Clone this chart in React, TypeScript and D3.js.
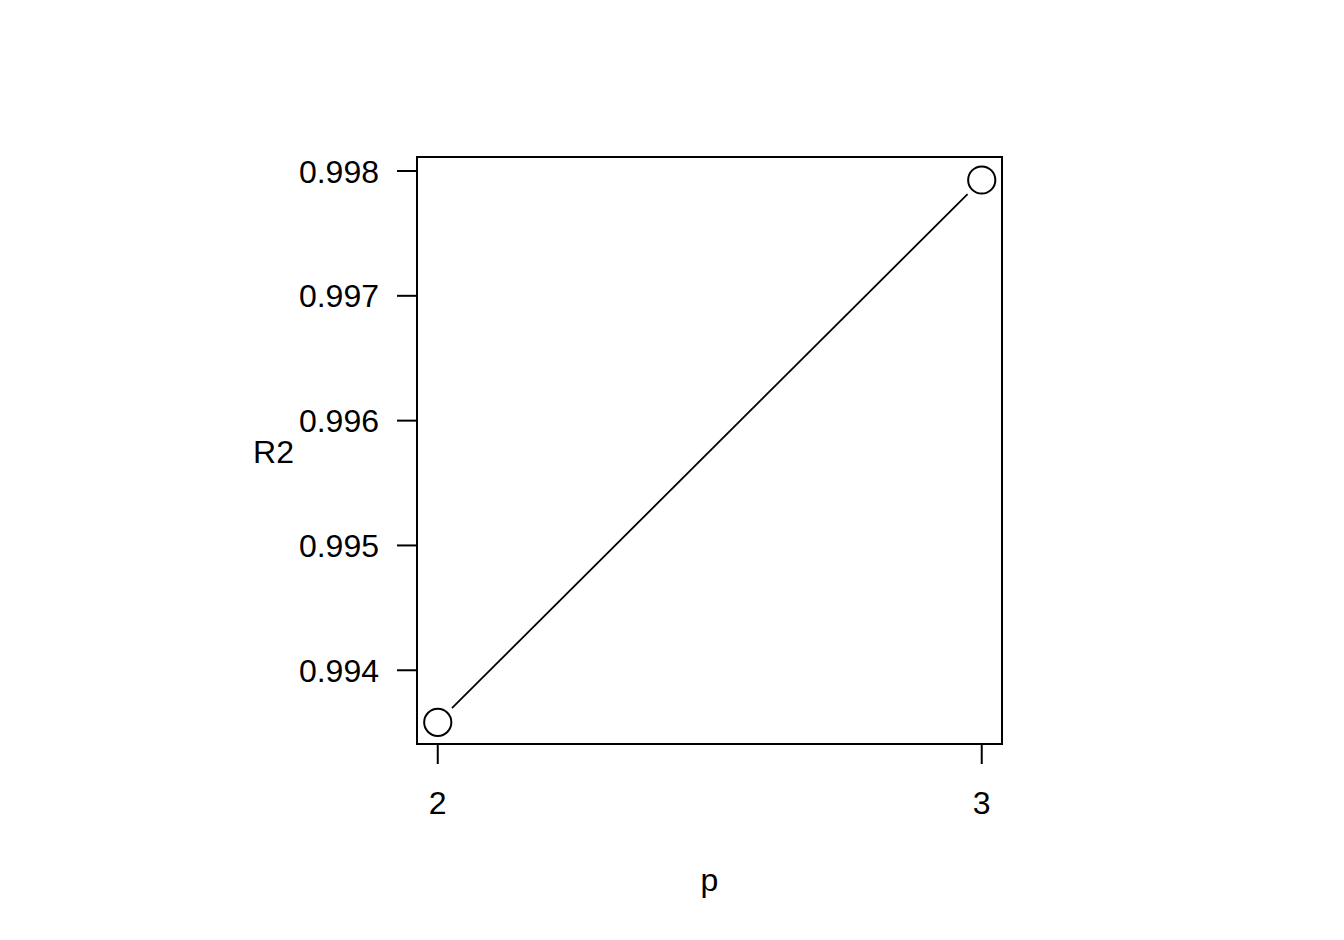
import React from "react";
import * as d3 from "d3";

const pValues = [2, 3];
const r2Values = [0.993583, 0.997928];
const yTicks = [0.994, 0.995, 0.996, 0.997, 0.998];
const xTicks = [2, 3];

const W = 1344;
const H = 940;
const left = 417;
const right = 1002;
const top = 157;
const bottom = 744;
const FONT = "'Liberation Sans', Arial, sans-serif";
const FS = 32;

function pad(ext: [number, number]): [number, number] {
  const d = (ext[1] - ext[0]) * 0.04;
  return [ext[0] - d, ext[1] + d];
}

export default function App() {
  const x = d3.scaleLinear().domain(pad(d3.extent(pValues) as [number, number])).range([416, 1003.5]);
  const y = d3.scaleLinear().domain(pad(d3.extent(r2Values) as [number, number])).range([744, 158.3]);
  const pts = pValues.map((p, i) => [x(p), y(r2Values[i])]);
  const gap = 20;
  const segs: number[][] = [];
  for (let i = 0; i < pts.length - 1; i++) {
    const [x0, y0] = pts[i];
    const [x1, y1] = pts[i + 1];
    const len = Math.hypot(x1 - x0, y1 - y0);
    const ux = (x1 - x0) / len;
    const uy = (y1 - y0) / len;
    segs.push([x0 + ux * gap, y0 + uy * gap, x1 - ux * gap, y1 - uy * gap]);
  }
  const tick = 20;
  return (
    <svg width={W} height={H} style={{ position: "absolute", left: 0, top: 0, background: "#fff" }}>
      <rect x={0} y={0} width={W} height={H} fill="#fff" />
      <rect x={left} y={top} width={right - left} height={bottom - top} fill="none" stroke="#000" strokeWidth={2} />
      {segs.map((s, i) => (
        <line key={i} x1={s[0]} y1={s[1]} x2={s[2]} y2={s[3]} stroke="#000" strokeWidth={1.8} />
      ))}
      {pts.map((p, i) => (
        <circle key={i} cx={p[0]} cy={p[1]} r={13.6} fill="none" stroke="#000" strokeWidth={2} />
      ))}
      {yTicks.map((t) => (
        <g key={t}>
          <line x1={left - tick} x2={left} y1={y(t)} y2={y(t)} stroke="#000" strokeWidth={2} />
          <text x={379} y={y(t)} dy="0.36em" textAnchor="end" fontFamily={FONT} fontSize={FS}>
            {t.toFixed(3)}
          </text>
        </g>
      ))}
      {xTicks.map((t) => (
        <g key={t}>
          <line x1={x(t)} x2={x(t)} y1={bottom} y2={bottom + tick} stroke="#000" strokeWidth={2} />
          <text x={x(t)} y={814} textAnchor="middle" fontFamily={FONT} fontSize={FS}>
            {t}
          </text>
        </g>
      ))}
      <text x={(left + right) / 2} y={891} textAnchor="middle" fontFamily={FONT} fontSize={FS}>
        p
      </text>
      <text x={273.5} y={462.5} textAnchor="middle" fontFamily={FONT} fontSize={FS}>
        R2
      </text>
    </svg>
  );
}
